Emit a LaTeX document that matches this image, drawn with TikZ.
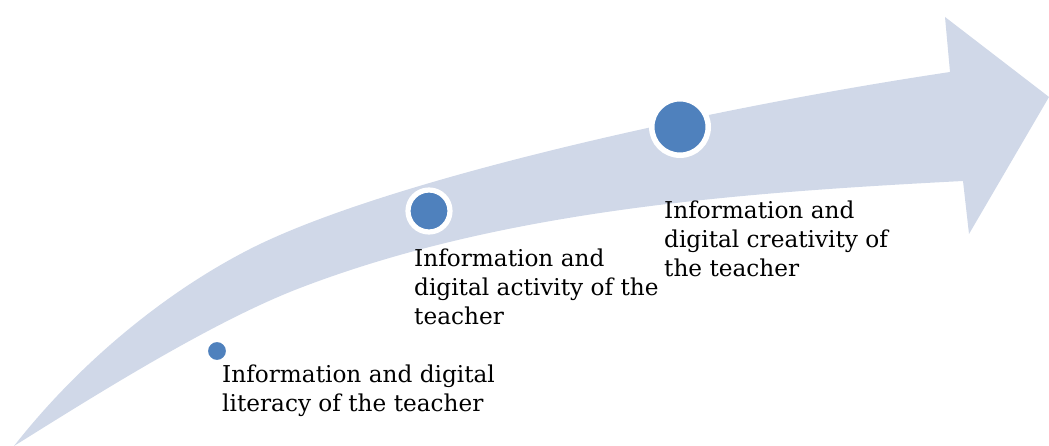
\documentclass[tikz,border=0pt]{standalone}
\usepackage{fontspec}
\setmainfont{DejaVu Serif}
\usetikzlibrary{positioning}
\definecolor{arrowfill}{HTML}{D0D8E8}
\definecolor{dotblue}{HTML}{4F81BD}
\tikzset{
  dot/.style = {circle, fill = dotblue, draw = white, inner sep = 0pt},
  stage/.style = {anchor = base west, inner sep = 0pt, align = left,
    font = \fontsize{23.2}{29}\selectfont}
}

\begin{document}
\begin{tikzpicture}[x = 1pt, y = 1pt]
  \useasboundingbox (0,0) rectangle (1049,446);
  % the curved arrow
  \fill [arrowfill] (14,0)
    .. controls (75.6,78.8) and (160.9,151.6) .. (250,197)
    .. controls (383.7,265) and (703,337) .. (950,374)
    -- (945,429) -- (1049,349) -- (969,212) -- (963,265)
    .. controls (743,253.5) and (505.4,236.8) .. (300,158)
    .. controls (211.3,124) and (94.6,50.3) .. (14,0)
    -- cycle;
  % the three stages
  \node (dlit) [dot, minimum size = 20pt, line width = 2pt] at (217,95) {};
  \node (dact) [dot, minimum size = 42pt, line width = 5.2pt] at (429,235) {};
  \node (dcre) [dot, minimum size = 56.5pt, line width = 5.5pt] at (680,319) {};
  % labels (anchored on their last line)
  \node (lit) [stage] at (222,34) {Information and digital\\literacy of the teacher};
  \node (act) [stage] at (414,121) {Information and\\digital activity of the\\teacher};
  \node (cre) [stage] at (664,169) {Information and\\digital creativity of\\the teacher};
\end{tikzpicture}
\end{document}
